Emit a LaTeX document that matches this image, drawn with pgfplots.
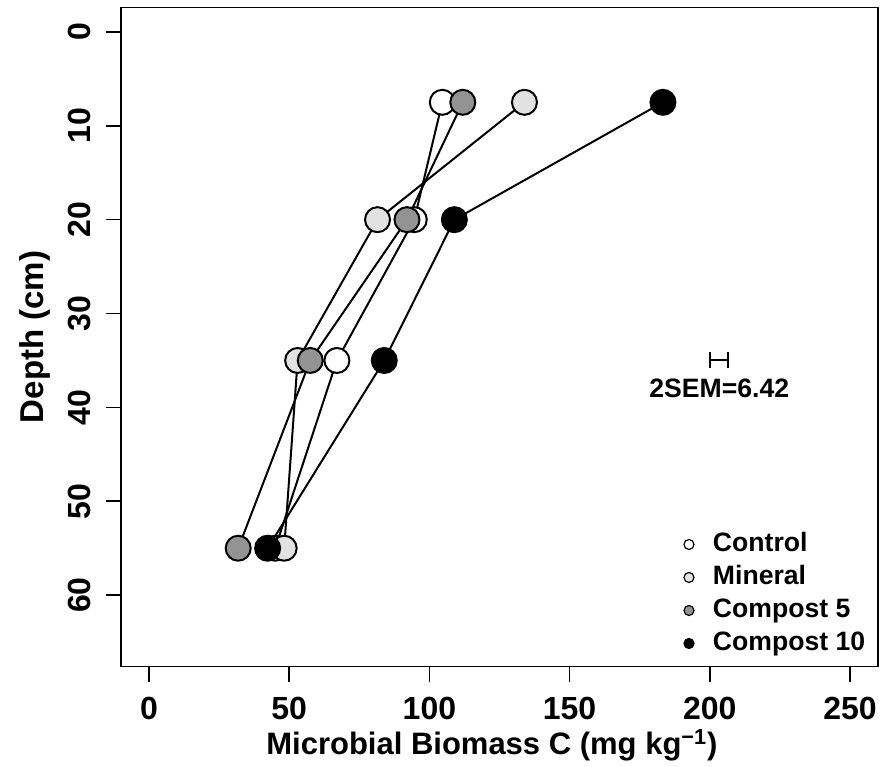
\documentclass[border=0pt]{standalone}
\usepackage{fontspec}
\setmainfont{Liberation Sans}
\usepackage{pgfplots}
\pgfplotsset{compat=1.18}
\definecolor{minfill}{HTML}{E2E2E2}
\definecolor{c5fill}{HTML}{939393}
\begin{document}
\begin{tikzpicture}
\begin{axis}[
  scale only axis,
  width=378.5pt, height=329.5pt,
  xmin=-10, xmax=260, ymin=-2.6, ymax=67.6,
  y dir=reverse,
  xtick={0,50,...,250}, ytick={0,10,...,60},
  tick align=outside, major tick length=7.5pt,
  xtick pos=bottom, ytick pos=left,
  axis line style={line width=0.8pt},
  every tick/.style={black, line width=0.8pt},
  /pgf/number format/assume math mode=true,
  tick label style={font=\bfseries\fontsize{16}{18}\selectfont},
  xticklabel style={anchor=north, inner sep=0pt},
  yticklabel style={rotate=90, anchor=south, inner sep=0pt},
  xticklabel shift=7.5pt, yticklabel shift=7.5pt,
  xlabel={Microbial Biomass C (mg kg\textsuperscript{−1})},
  ylabel={Depth (cm)},
  xlabel style={font=\bfseries\fontsize{15.5}{17}\selectfont, at={(axis description cs:0.49,-0.134)}, anchor=base, inner sep=0pt},
  ylabel style={font=\bfseries\fontsize{16.5}{18}\selectfont, at={(axis description cs:-0.103,0.5)}, anchor=base, inner sep=0pt},
  legend style={draw=none, fill=none, inner sep=0pt, outer sep=0pt,
    at={(axis description cs:0.7437,0.2049)}, anchor=north west,
    font=\bfseries\fontsize{13.3}{15}\selectfont, row sep=3.5pt,
    nodes={inner sep=0pt, text height=10pt, text depth=3pt},
    /tikz/every odd column/.append style={column sep=9.5pt}},
  legend cell align=left,
  legend image code/.code={\draw[#1] plot coordinates {(0pt,0pt)};},
  clip=false,
]
% Control
\addplot[black, line width=1pt, mark=*, mark size=6.25pt, mark options={fill=white, line width=1pt}, forget plot]
  coordinates {(104.6,7.5) (94.6,20) (67,35) (45,55)};
% Mineral
\addplot[black, line width=1pt, mark=*, mark size=6.25pt, mark options={fill=minfill, line width=1pt}, forget plot]
  coordinates {(133.9,7.5) (81.5,20) (53,35) (48.2,55)};
% Compost 5
\addplot[black, line width=1pt, mark=*, mark size=6.25pt, mark options={fill=c5fill, line width=1pt}, forget plot]
  coordinates {(111.9,7.5) (92,20) (57.5,35) (31.8,55)};
% Compost 10
\addplot[black, line width=1pt, mark=*, mark size=6.25pt, mark options={fill=black, line width=1pt}, forget plot]
  coordinates {(183.3,7.5) (108.9,20) (83.9,35) (42.3,55)};
% 2SEM bar
\addplot[black, line width=1pt, mark=|, mark size=4pt, forget plot]
  coordinates {(200.2,35) (206.6,35)};
\node[font=\bfseries\fontsize{13.3}{15}\selectfont] at (axis cs:203.4,38) {2SEM=6.42};
\addlegendimage{only marks, mark=*, mark size=2.5pt, mark options={fill=white, draw=black, line width=0.6pt}}
\addlegendentry{Control}
\addlegendimage{only marks, mark=*, mark size=2.5pt, mark options={fill=minfill, draw=black, line width=0.6pt}}
\addlegendentry{Mineral}
\addlegendimage{only marks, mark=*, mark size=2.5pt, mark options={fill=c5fill, draw=black, line width=0.6pt}}
\addlegendentry{Compost 5}
\addlegendimage{only marks, mark=*, mark size=2.5pt, mark options={fill=black, draw=black, line width=0.6pt}}
\addlegendentry{Compost 10}
\end{axis}
\pgfresetboundingbox
\path[use as bounding box] (-60.5pt,-49.75pt) rectangle (386.5pt,333.25pt);
\end{tikzpicture}
\end{document}
